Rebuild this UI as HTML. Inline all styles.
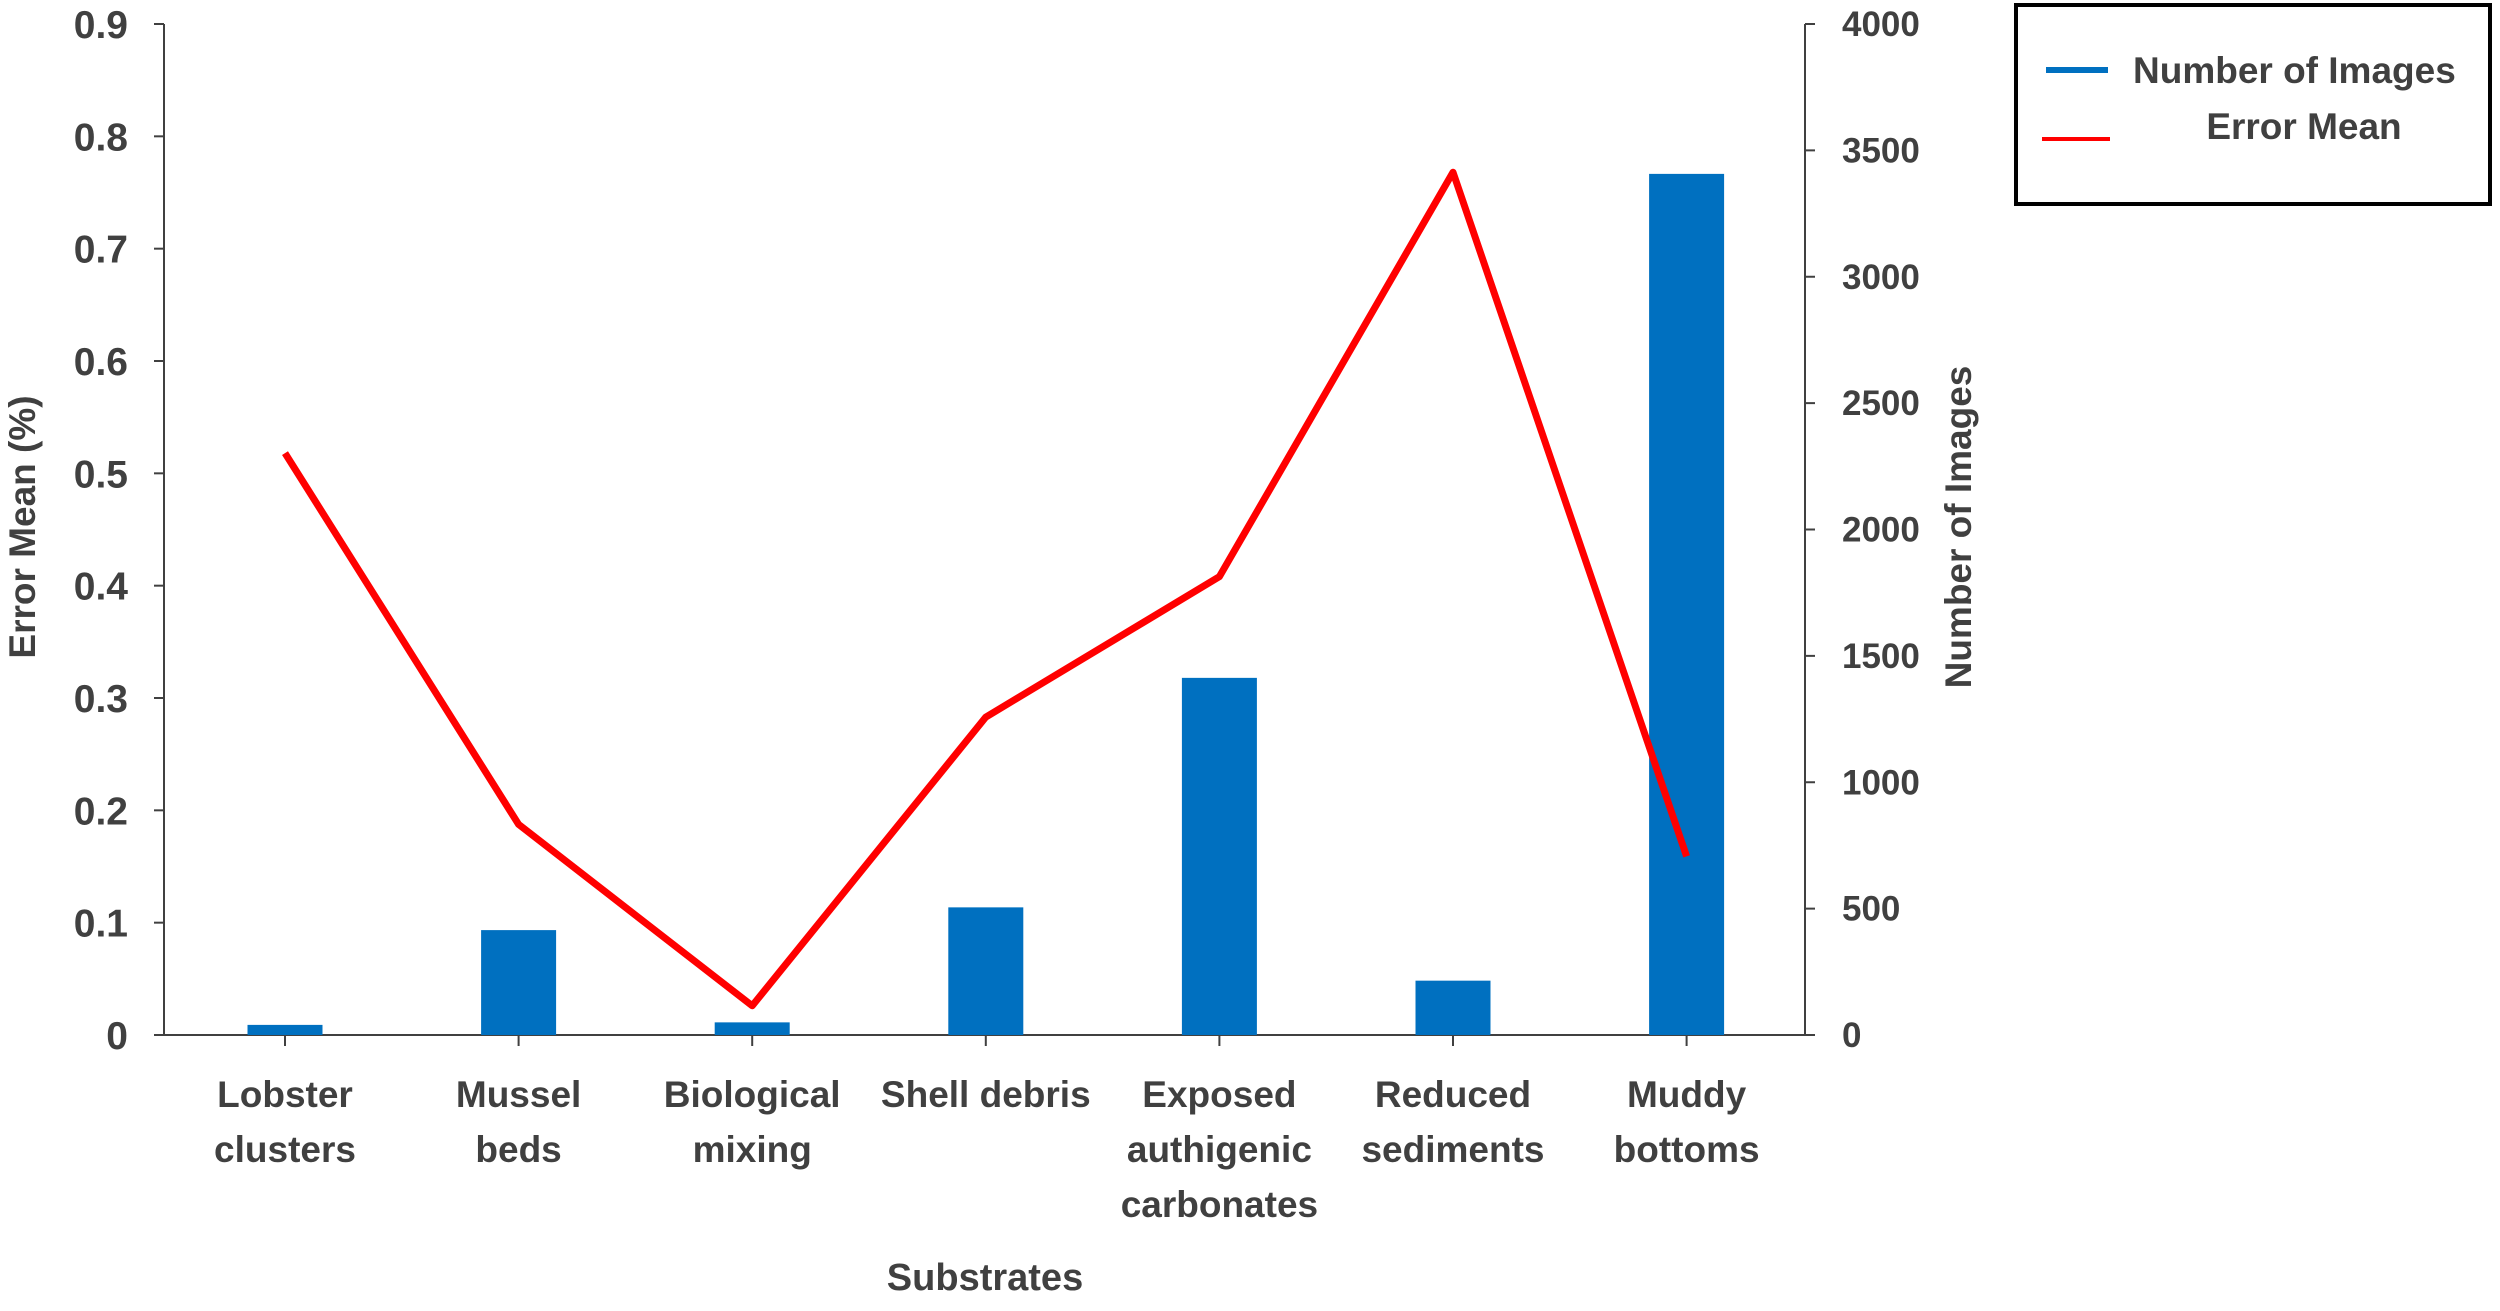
<!DOCTYPE html>
<html><head><meta charset="utf-8"><style>
body{margin:0;background:#fff;}
svg text{font-family:"Liberation Sans",sans-serif;font-weight:bold;fill:#404040;}
</style></head><body>
<svg id="chart" width="2500" height="1306" xmlns="http://www.w3.org/2000/svg">
<g id="axes"></g>
<g id="bars"></g>
<g id="line"></g>
<text x="25" y="527" transform="rotate(-90 25 527)" text-anchor="middle" dominant-baseline="middle" font-size="37">Error Mean (%)</text>
<text x="1961" y="527" transform="rotate(-90 1961 527)" text-anchor="middle" dominant-baseline="middle" font-size="37">Number of Images</text>
<text x="985" y="1290" text-anchor="middle" font-size="38">Substrates</text>
<g>
<rect x="2016" y="5" width="474" height="199" fill="#fff" stroke="#000" stroke-width="4"/>
<line x1="2046" y1="70" x2="2108" y2="70" stroke="#0070c0" stroke-width="6"/>
<text x="2133" y="83" font-size="37">Number of Images</text>
<line x1="2042" y1="139" x2="2110" y2="139" stroke="#ff0000" stroke-width="4"/>
<text x="2304" y="139" text-anchor="middle" font-size="37">Error Mean</text>
</g>
</svg>
<script>
const categories=[["Lobster","clusters"],["Mussel","beds"],["Biological","mixing"],["Shell debris"],["Exposed","authigenic","carbonates"],["Reduced","sediments"],["Muddy","bottoms"]];
const imageCounts=[40,415,50,505,1413,215,3407];
const errorMeans=[0.518,0.1875,0.026,0.283,0.408,0.768,0.159];
const leftTicks=[0,0.1,0.2,0.3,0.4,0.5,0.6,0.7,0.8,0.9];
const rightTicks=[0,500,1000,1500,2000,2500,3000,3500,4000];

const NS="http://www.w3.org/2000/svg";
const X0=164,X1=1805,Y0=1035,Ytop=24;
const xPos=i=>285+i*233.6;
const yL=v=>Y0-(v/0.9)*(Y0-Ytop);
const yR=v=>Y0-(v/4000)*(Y0-Ytop);
function mk(tag,attrs,parent){const e=document.createElementNS(NS,tag);for(const k in attrs)e.setAttribute(k,attrs[k]);parent.appendChild(e);return e;}
const axes=document.getElementById('axes'),bars=document.getElementById('bars'),line=document.getElementById('line');

let e=mk('line',{x1:X0,y1:Ytop,x2:X0,y2:Y0,stroke:'#404040','stroke-width':2},axes);


e=mk('line',{x1:X1,y1:Ytop,x2:X1,y2:Y0,stroke:'#404040','stroke-width':2},axes);


e=mk('line',{x1:X0,y1:Y0,x2:X1,y2:Y0,stroke:'#404040','stroke-width':2},axes);



leftTicks.forEach(v=>{const y=yL(v);
 let t=mk('line',{x1:X0-10,y1:y,x2:X0,y2:y,stroke:'#404040','stroke-width':2},axes);
 
 
 let l=mk('text',{x:128,y:y+14,'text-anchor':'end','font-size':39},axes);l.textContent=String(v);
 
 
});
rightTicks.forEach(v=>{const y=yR(v);
 let t=mk('line',{x1:X1,y1:y,x2:X1+10,y2:y,stroke:'#404040','stroke-width':2},axes);
 
 
 let l=mk('text',{x:1842,y:y+12,'text-anchor':'start','font-size':35},axes);l.textContent=String(v);
 
 
});
categories.forEach((c,i)=>{const x=xPos(i);
 let t=mk('line',{x1:x,y1:Y0,x2:x,y2:Y0+11,stroke:'#404040','stroke-width':2},axes);
 
 
 c.forEach((s,j)=>{let l=mk('text',{x:x,y:1107+j*55,'text-anchor':'middle','font-size':37},axes);l.textContent=s;
  
  });
});
imageCounts.forEach((v,i)=>{const y=yR(v);
 let b=mk('rect',{x:xPos(i)-37.5,y:y,width:75,height:Y0-y,fill:'#0070c0'},bars);
 
 
});
const pts=errorMeans.map((v,i)=>xPos(i)+','+yL(v)).join(' ');
let pl=mk('polyline',{points:pts,fill:'none',stroke:'#ff0000','stroke-width':7,'stroke-linejoin':'round'},line);


</script>
</body></html>
